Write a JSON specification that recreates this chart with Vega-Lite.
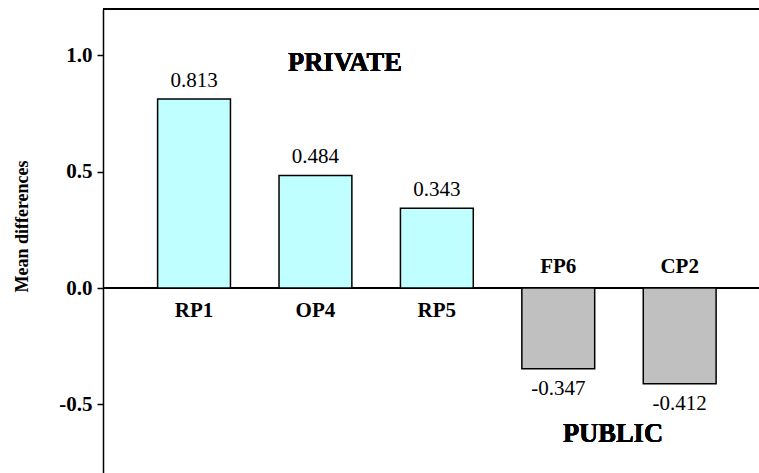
{
  "$schema": "https://vega.github.io/schema/vega-lite/v6.json",
  "width": 660,
  "height": 465,
  "autosize": "none",
  "padding": {"left": 103, "top": 9, "right": 0, "bottom": 0},
  "background": "white",
  "config": {
    "view": {"stroke": null},
    "font": "Liberation Serif",
    "text": {"font": "Liberation Serif"}
  },
  "data": {
    "values": [
      {"code": "RP1", "value": 0.813, "sector": "PRIVATE"},
      {"code": "OP4", "value": 0.484, "sector": "PRIVATE"},
      {"code": "RP5", "value": 0.343, "sector": "PRIVATE"},
      {"code": "FP6", "value": -0.347, "sector": "PUBLIC"},
      {"code": "CP2", "value": -0.412, "sector": "PUBLIC"}
    ]
  },
  "encoding": {
    "x": {
      "field": "code",
      "type": "nominal",
      "sort": null,
      "axis": null,
      "scale": {"paddingInner": 0.4, "paddingOuter": 0.418, "align": 0.538}
    }
  },
  "layer": [
    {
      "mark": {"type": "rule", "color": "black", "strokeWidth": 1.5},
      "encoding": {"y": {"datum": 1.2, "type": "quantitative"}, "x": null}
    },
    {
      "mark": {"type": "rule", "color": "black", "strokeWidth": 1.5},
      "encoding": {"y": {"datum": 0, "type": "quantitative"}, "x": null}
    },
    {
      "mark": {"type": "bar", "stroke": "black", "strokeWidth": 1.5},
      "encoding": {
        "y": {
          "field": "value",
          "type": "quantitative",
          "scale": {"domain": [-0.8, 1.2], "nice": false, "zero": false},
          "axis": {
            "values": [-0.5, 0, 0.5, 1.0],
            "labelExpr": "datum.value < 0 ? '-' + format(-datum.value, '.1f') : format(datum.value, '.1f')",
            "grid": false,
            "domainColor": "black",
            "domainWidth": 1.5,
            "tickColor": "black",
            "tickWidth": 1.5,
            "tickSize": 6,
            "labelFont": "Liberation Serif",
            "labelFontWeight": "bold",
            "labelFontSize": 21,
            "labelColor": "black",
            "labelPadding": 5,
            "title": "Mean differences",
            "titleFont": "Liberation Serif",
            "titleFontWeight": "bold",
            "titleFontSize": 18,
            "titleColor": "black",
            "titleX": -81,
            "titleY": 217,
            "titleBaseline": "middle",
            "titleAngle": -90
          }
        },
        "y2": {"datum": 0},
        "color": {
          "field": "sector",
          "type": "nominal",
          "scale": {"domain": ["PRIVATE", "PUBLIC"], "range": ["#C0FFFF", "#C0C0C0"]},
          "legend": null
        }
      }
    },
    {
      "transform": [{"filter": "datum.value >= 0"}],
      "mark": {
        "type": "text", "baseline": "alphabetic", "dy": -12, "fontSize": 21, "color": "black",
        "text": {"expr": "format(datum.value, '.3f')"}
      },
      "encoding": {
        "y": {"field": "value", "type": "quantitative"}
      }
    },
    {
      "transform": [{"filter": "datum.value < 0"}],
      "mark": {
        "type": "text", "baseline": "alphabetic", "dy": 26, "fontSize": 21, "color": "black",
        "text": {"expr": "'-' + format(-datum.value, '.3f')"}
      },
      "encoding": {
        "y": {"field": "value", "type": "quantitative"}
      }
    },
    {
      "transform": [{"filter": "datum.value >= 0"}],
      "mark": {"type": "text", "baseline": "alphabetic", "dy": 29, "fontSize": 21, "fontWeight": "bold", "color": "black"},
      "encoding": {
        "y": {"datum": 0, "type": "quantitative"},
        "text": {"field": "code", "type": "nominal"}
      }
    },
    {
      "transform": [{"filter": "datum.value < 0"}],
      "mark": {"type": "text", "baseline": "alphabetic", "dy": -15, "fontSize": 21, "fontWeight": "bold", "color": "black"},
      "encoding": {
        "y": {"datum": 0, "type": "quantitative"},
        "text": {"field": "code", "type": "nominal"}
      }
    },
    {
      "mark": {"type": "text", "baseline": "alphabetic", "dx": 29.5, "fontSize": 26.5, "fontWeight": "bold", "color": "black"},
      "encoding": {
        "x": {"datum": "OP4"},
        "y": {"datum": 0.933, "type": "quantitative"},
        "text": {"value": "PRIVATE"}
      }
    },
    {
      "mark": {"type": "text", "baseline": "alphabetic", "dx": 54.7, "fontSize": 26.5, "fontWeight": "bold", "color": "black"},
      "encoding": {
        "x": {"datum": "FP6"},
        "y": {"datum": -0.662, "type": "quantitative"},
        "text": {"value": "PUBLIC"}
      }
    }
  ]
}
